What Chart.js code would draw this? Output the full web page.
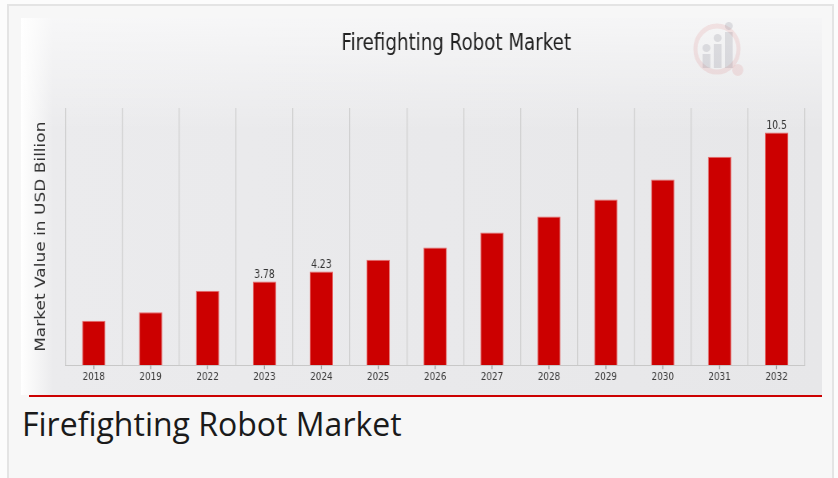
<!DOCTYPE html>
<html lang="en">
<head>
    <meta charset="UTF-8">
    <title>Firefighting Robot Market</title>
    <script src="https://cdn.jsdelivr.net/npm/chart.js"></script>
    <style>
        body {
            margin: 0;
            background-color: #fcfcfc;
            font-family: "Open Sans", sans-serif;
            overflow: hidden;
        }
        .frame {
            position: absolute;
            left: 7px;
            top: 4px;
            width: 823px;
            height: 500px;
            border: 2px solid #e4e4e4;
            background-color: #f7f7f7;
        }
        .card {
            position: absolute;
            left: 21px;
            top: 18px;
            width: 801px;
            height: 377px;
            background:
                linear-gradient(to bottom, rgba(255,255,255,0.6) 0%, rgba(255,255,255,0) 30%),
                linear-gradient(to right, #ffffff 0%, #fafafa 1%, #ebebed 4%, #e7e7e9 100%);
            overflow: hidden;
        }
        .redline {
            position: absolute;
            left: 29px;
            top: 395px;
            width: 793px;
            height: 2px;
            background-color: #cc0000;
        }
        /* the source picture is squeezed sideways, so the chart is drawn wider and scaled */
        .chart-box {
            position: absolute;
            left: 0;
            top: 0;
            width: 1001px;
            height: 377px;
            transform: scaleX(0.8);
            transform-origin: 0 0;
        }
        .caption {
            position: absolute;
            left: 22px;
            top: 408px;
            font-size: 32px;
            line-height: 32px;
            color: #1a1a1a;
        }
    </style>
</head>
<body>
    <div class="frame"></div>
    <div class="card">
        <div class="chart-box">
            <canvas id="barChart"></canvas>
        </div>
    </div>
    <div class="redline"></div>
    <div class="caption">Firefighting Robot Market</div>
    <script>
        const years = ['2018', '2019', '2022', '2023', '2024', '2025', '2026', '2027', '2028', '2029', '2030', '2031', '2032'];
        const marketValues = [2.01, 2.39, 3.36, 3.78, 4.23, 4.76, 5.31, 5.99, 6.71, 7.48, 8.38, 9.40, 10.5];
        const valueLabels = ['', '', '', '3.78', '4.23', '', '', '', '', '', '', '', '10.5'];
        const chartTitle = 'Firefighting Robot Market';
        const yAxisTitle = 'Market Value in USD Billion';
        const yAxisMax = 11.6;

        Chart.defaults.font.family = 'DejaVu Sans';

        const watermark = {
            id: 'watermark',
            beforeDatasetsDraw(chart) {
                const ctx = chart.ctx;
                ctx.save();
                ctx.globalAlpha = 0.1;
                ctx.strokeStyle = '#d03030';
                ctx.lineWidth = 5;
                ctx.beginPath();
                ctx.ellipse(870, 31, 27, 23, 0, 0, Math.PI * 2);
                ctx.stroke();
                ctx.fillStyle = '#d03030';
                ctx.beginPath();
                ctx.ellipse(896, 52, 7, 6, 0, 0, Math.PI * 2);
                ctx.fill();
                ctx.globalAlpha = 0.16;
                ctx.fillStyle = '#606070';
                [[852, 36, 6], [866, 26, 6], [880, 14, 6]].forEach(([x, y, w]) => {
                    ctx.fillRect(x, y, w * 1.6, 50 - y);
                    ctx.beginPath();
                    ctx.ellipse(x + w * 0.8, y - 6, 5, 4, 0, 0, Math.PI * 2);
                    ctx.fill();
                });
                ctx.restore();
            }
        };

        const extras = {
            id: 'extras',
            afterDatasetsDraw(chart) {
                const ctx = chart.ctx;
                const meta = chart.getDatasetMeta(0);
                const xScale = chart.scales.x;
                const area = chart.chartArea;
                ctx.save();
                // value labels over some bars
                ctx.fillStyle = '#333';
                ctx.font = '11.5px "DejaVu Sans"';
                ctx.textAlign = 'center';
                ctx.textBaseline = 'alphabetic';
                meta.data.forEach((bar, i) => {
                    if (valueLabels[i]) ctx.fillText(valueLabels[i], bar.x, bar.y - 3);
                });
                // small tick marks under each bar
                ctx.strokeStyle = '#9a9a9a';
                ctx.lineWidth = 1.25;
                years.forEach((y, i) => {
                    const x = xScale.getPixelForValue(i);
                    ctx.beginPath();
                    ctx.moveTo(x, area.bottom);
                    ctx.lineTo(x, area.bottom + 4);
                    ctx.stroke();
                });
                // title
                ctx.fillStyle = '#222';
                ctx.font = '22.8px "DejaVu Sans"';
                ctx.fillText(chartTitle, 544, 32);
                ctx.restore();
            }
        };

        new Chart(document.getElementById('barChart'), {
            type: 'bar',
            data: {
                labels: years,
                datasets: [{
                    data: marketValues,
                    backgroundColor: '#cc0000',
                    borderColor: '#e86a6a',
                    borderWidth: 1,
                    barPercentage: 0.41,
                    categoryPercentage: 1
                }]
            },
            options: {
                responsive: true,
                maintainAspectRatio: false,
                animation: false,
                layout: { padding: { left: 11, right: 21, top: 90, bottom: 6.5 } },
                plugins: {
                    legend: { display: false },
                    tooltip: { enabled: false }
                },
                scales: {
                    x: {
                        grid: { offset: true, color: '#cfcfcf', lineWidth: 1.25, drawTicks: false },
                        border: { color: '#c8c8c8', width: 1 },
                        ticks: { color: '#3a3a3a', font: { size: 11 }, padding: 5 }
                    },
                    y: {
                        min: 0,
                        max: yAxisMax,
                        grid: { display: false, drawTicks: false },
                        border: { display: false },
                        ticks: { display: false },
                        title: {
                            display: true,
                            text: yAxisTitle,
                            color: '#333',
                            font: { size: 17 },
                            padding: { top: 4, bottom: 20 }
                        }
                    }
                }
            },
            plugins: [watermark, extras]
        });
    </script>
</body>
</html>
